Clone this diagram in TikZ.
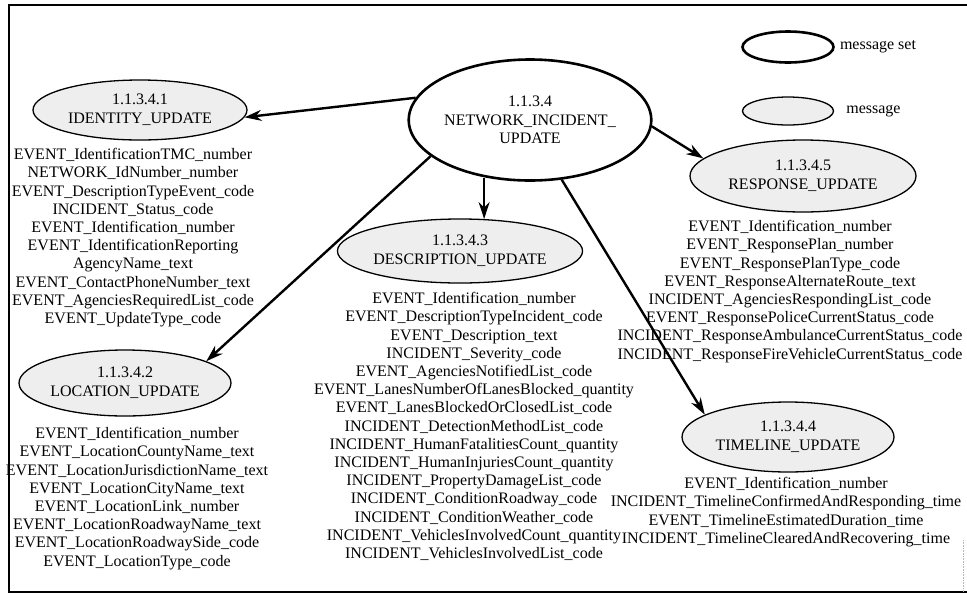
\documentclass[tikz,border=0pt]{standalone}
\usepackage{fontspec}
\setmainfont{Liberation Serif}
\usepackage{xcolor}
\usepackage{tikz}
\usetikzlibrary{positioning,arrows.meta,shapes.geometric}
\definecolor{ink}{HTML}{000000}
\definecolor{stipple}{HTML}{EEEEEE}
\definecolor{faint}{HTML}{B8B8B8}

\tikzset{
  msgset/.style={ellipse, draw=ink, line width=2.6pt, inner sep=0pt, align=center,
                 text=ink, font=\fontsize{16}{18.5}\selectfont},
  msg/.style={ellipse, draw=ink, line width=1.3pt, fill=stipple, inner sep=0pt, align=center,
              text=ink, font=\fontsize{16}{19}\selectfont},
  fields/.style={align=center, inner sep=0pt, text=ink, font=\fontsize{16}{18.2}\selectfont},
  keytext/.style={inner sep=0pt, text=ink, font=\fontsize{16}{18}\selectfont},
  link/.style={draw=ink, line width=2.4pt, -{Stealth[length=17pt,width=11pt]}},
}

\begin{document}
\begin{tikzpicture}[x=1pt, y=-1pt]
  \useasboundingbox (0,0) rectangle (967,598);
  \draw[ink, line width=2.5pt] (967,5) -- (9,5) -- (9,592) -- (967,592);
  \draw[faint, densely dotted, line width=0.6pt] (963,540) -- (963,592);

  % legend
  \node[msgset, minimum width=91pt, minimum height=31pt] (keyset) at (788,47) {};
  \node[keytext, right=5pt of keyset] (keyset-lbl) {message set};
  \node[msg, minimum width=91pt, minimum height=28pt] (keymsg) at (788,111) {};
  \node[keytext, right=12pt of keymsg] (keymsg-lbl) {message};

  % message set and its messages
  \node[msgset, minimum width=237pt, minimum height=121pt] (netinc) at (530,120)
    {1.1.3.4\\NETWORK\_INCIDENT\_\\UPDATE};
  \node[msg, minimum width=214pt, minimum height=60pt] (identity) at (140,110)
    {1.1.3.4.1\\IDENTITY\_UPDATE};
  \node[msg, minimum width=212pt, minimum height=66pt] (location) at (125,383)
    {1.1.3.4.2\\LOCATION\_UPDATE};
  \node[msg, minimum width=206pt, minimum height=64pt] (descr) at (460,251)
    {1.1.3.4.3\\DESCRIPTION\_UPDATE};
  \node[msg, minimum width=212pt, minimum height=70pt] (timeline) at (788,437)
    {1.1.3.4.4\\TIMELINE\_UPDATE};
  \node[msg, minimum width=226pt, minimum height=72pt] (response) at (803,176)
    {1.1.3.4.5\\RESPONSE\_UPDATE};

  \node[fields, below=7.5pt of identity, xshift=-7pt] (identity-list) {%
    EVENT\_IdentificationTMC\_number\\
    NETWORK\_IdNumber\_number\\
    EVENT\_DescriptionTypeEvent\_code\\
    INCIDENT\_Status\_code\\
    EVENT\_Identification\_number\\
    EVENT\_IdentificationReporting\\
    AgencyName\_text\\
    EVENT\_ContactPhoneNumber\_text\\
    EVENT\_AgenciesRequiredList\_code\\
    EVENT\_UpdateType\_code};
  \node[fields, below=10.5pt of location, xshift=12pt] (location-list) {%
    EVENT\_Identification\_number\\
    EVENT\_LocationCountyName\_text\\
    EVENT\_LocationJurisdictionName\_text\\
    EVENT\_LocationCityName\_text\\
    EVENT\_LocationLink\_number\\
    EVENT\_LocationRoadwayName\_text\\
    EVENT\_LocationRoadwaySide\_code\\
    EVENT\_LocationType\_code};
  \node[fields, below=8.5pt of descr, xshift=14pt] (descr-list) {%
    EVENT\_Identification\_number\\
    EVENT\_DescriptionTypeIncident\_code\\
    EVENT\_Description\_text\\
    INCIDENT\_Severity\_code\\
    EVENT\_AgenciesNotifiedList\_code\\
    EVENT\_LanesNumberOfLanesBlocked\_quantity\\
    EVENT\_LanesBlockedOrClosedList\_code\\
    INCIDENT\_DetectionMethodList\_code\\
    INCIDENT\_HumanFatalitiesCount\_quantity\\
    INCIDENT\_HumanInjuriesCount\_quantity\\
    INCIDENT\_PropertyDamageList\_code\\
    INCIDENT\_ConditionRoadway\_code\\
    INCIDENT\_ConditionWeather\_code\\
    INCIDENT\_VehiclesInvolvedCount\_quantity\\
    INCIDENT\_VehiclesInvolvedList\_code};
  \node[fields, below=4.5pt of timeline, xshift=-2pt] (timeline-list) {%
    EVENT\_Identification\_number\\
    INCIDENT\_TimelineConfirmedAndResponding\_time\\
    EVENT\_TimelineEstimatedDuration\_time\\
    INCIDENT\_TimelineClearedAndRecovering\_time};
  \node[fields, below=7.5pt of response, xshift=-13pt] (response-list) {%
    EVENT\_Identification\_number\\
    EVENT\_ResponsePlan\_number\\
    EVENT\_ResponsePlanType\_code\\
    EVENT\_ResponseAlternateRoute\_text\\
    INCIDENT\_AgenciesRespondingList\_code\\
    EVENT\_ResponsePoliceCurrentStatus\_code\\
    INCIDENT\_ResponseAmbulanceCurrentStatus\_code\\
    INCIDENT\_ResponseFireVehicleCurrentStatus\_code};

  \draw[link] (netinc.169) -- (identity.356);
  \draw[link] (netinc.200) -- (location.15);
  \draw[link] (descr.53 |- netinc.232) -- (descr.53);
  \draw[link] (netinc.298) -- (timeline.165);
  \draw[link] (netinc.357) -- (response.170);
\end{tikzpicture}
\end{document}
